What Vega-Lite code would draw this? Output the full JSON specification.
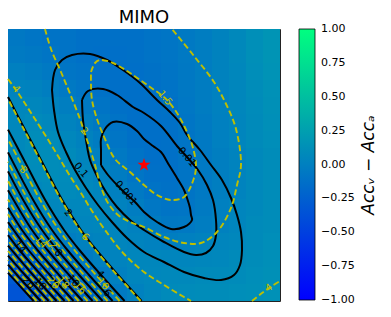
{
"$schema": "https://vega.github.io/schema/vega-lite/v6.json",
"width": 272, "height": 272,
"autosize": "none",
"padding": {"left": 8, "top": 29, "right": 111, "bottom": 16},
"title": {"text": "MIMO", "fontSize": 18, "font": "DejaVu Sans", "fontWeight": "normal", "offset": -2, "color": "black"},
"config": {"view": {"stroke": "#222", "strokeWidth": 1}, "font": "DejaVu Sans"},
"datasets": {
"grid": [
{"x":0,"x2":8.5,"y":0,"y2":8.5,"v":-0.06},{"x":8.5,"x2":17,"y":0,"y2":8.5,"v":-0.08},{"x":17,"x2":25.5,"y":0,"y2":8.5,"v":-0.1},{"x":25.5,"x2":34,"y":0,"y2":8.5,"v":-0.1},{"x":34,"x2":42.5,"y":0,"y2":8.5,"v":-0.12},{"x":42.5,"x2":51,"y":0,"y2":8.5,"v":-0.12},{"x":51,"x2":59.5,"y":0,"y2":8.5,"v":-0.12},{"x":59.5,"x2":68,"y":0,"y2":8.5,"v":-0.12},{"x":68,"x2":76.5,"y":0,"y2":8.5,"v":-0.1},{"x":76.5,"x2":85,"y":0,"y2":8.5,"v":-0.08},{"x":85,"x2":93.5,"y":0,"y2":8.5,"v":-0.05},{"x":93.5,"x2":102,"y":0,"y2":8.5,"v":-0.02},{"x":102,"x2":110.5,"y":0,"y2":8.5,"v":0.02},{"x":110.5,"x2":119,"y":0,"y2":8.5,"v":0.07},{"x":119,"x2":127.5,"y":0,"y2":8.5,"v":0.12},{"x":127.5,"x2":136,"y":0,"y2":8.5,"v":0.16},
{"x":0,"x2":8.5,"y":8.5,"y2":17,"v":-0.04},{"x":8.5,"x2":17,"y":8.5,"y2":17,"v":-0.06},{"x":17,"x2":25.5,"y":8.5,"y2":17,"v":-0.08},{"x":25.5,"x2":34,"y":8.5,"y2":17,"v":-0.1},{"x":34,"x2":42.5,"y":8.5,"y2":17,"v":-0.12},{"x":42.5,"x2":51,"y":8.5,"y2":17,"v":-0.13},{"x":51,"x2":59.5,"y":8.5,"y2":17,"v":-0.13},{"x":59.5,"x2":68,"y":8.5,"y2":17,"v":-0.12},{"x":68,"x2":76.5,"y":8.5,"y2":17,"v":-0.1},{"x":76.5,"x2":85,"y":8.5,"y2":17,"v":-0.08},{"x":85,"x2":93.5,"y":8.5,"y2":17,"v":-0.05},{"x":93.5,"x2":102,"y":8.5,"y2":17,"v":-0.02},{"x":102,"x2":110.5,"y":8.5,"y2":17,"v":0.02},{"x":110.5,"x2":119,"y":8.5,"y2":17,"v":0.07},{"x":119,"x2":127.5,"y":8.5,"y2":17,"v":0.12},{"x":127.5,"x2":136,"y":8.5,"y2":17,"v":0.16},
{"x":0,"x2":8.5,"y":17,"y2":25.5,"v":0.0},{"x":8.5,"x2":17,"y":17,"y2":25.5,"v":-0.02},{"x":17,"x2":25.5,"y":17,"y2":25.5,"v":-0.05},{"x":25.5,"x2":34,"y":17,"y2":25.5,"v":-0.08},{"x":34,"x2":42.5,"y":17,"y2":25.5,"v":-0.1},{"x":42.5,"x2":51,"y":17,"y2":25.5,"v":-0.12},{"x":51,"x2":59.5,"y":17,"y2":25.5,"v":-0.13},{"x":59.5,"x2":68,"y":17,"y2":25.5,"v":-0.13},{"x":68,"x2":76.5,"y":17,"y2":25.5,"v":-0.11},{"x":76.5,"x2":85,"y":17,"y2":25.5,"v":-0.09},{"x":85,"x2":93.5,"y":17,"y2":25.5,"v":-0.06},{"x":93.5,"x2":102,"y":17,"y2":25.5,"v":-0.02},{"x":102,"x2":110.5,"y":17,"y2":25.5,"v":0.02},{"x":110.5,"x2":119,"y":17,"y2":25.5,"v":0.06},{"x":119,"x2":127.5,"y":17,"y2":25.5,"v":0.11},{"x":127.5,"x2":136,"y":17,"y2":25.5,"v":0.15},
{"x":0,"x2":8.5,"y":25.5,"y2":34,"v":0.03},{"x":8.5,"x2":17,"y":25.5,"y2":34,"v":0.02},{"x":17,"x2":25.5,"y":25.5,"y2":34,"v":-0.01},{"x":25.5,"x2":34,"y":25.5,"y2":34,"v":-0.05},{"x":34,"x2":42.5,"y":25.5,"y2":34,"v":-0.08},{"x":42.5,"x2":51,"y":25.5,"y2":34,"v":-0.11},{"x":51,"x2":59.5,"y":25.5,"y2":34,"v":-0.13},{"x":59.5,"x2":68,"y":25.5,"y2":34,"v":-0.13},{"x":68,"x2":76.5,"y":25.5,"y2":34,"v":-0.12},{"x":76.5,"x2":85,"y":25.5,"y2":34,"v":-0.1},{"x":85,"x2":93.5,"y":25.5,"y2":34,"v":-0.06},{"x":93.5,"x2":102,"y":25.5,"y2":34,"v":-0.03},{"x":102,"x2":110.5,"y":25.5,"y2":34,"v":0.01},{"x":110.5,"x2":119,"y":25.5,"y2":34,"v":0.05},{"x":119,"x2":127.5,"y":25.5,"y2":34,"v":0.1},{"x":127.5,"x2":136,"y":25.5,"y2":34,"v":0.14},
{"x":0,"x2":8.5,"y":34,"y2":42.5,"v":0.05},{"x":8.5,"x2":17,"y":34,"y2":42.5,"v":0.05},{"x":17,"x2":25.5,"y":34,"y2":42.5,"v":0.03},{"x":25.5,"x2":34,"y":34,"y2":42.5,"v":-0.01},{"x":34,"x2":42.5,"y":34,"y2":42.5,"v":-0.05},{"x":42.5,"x2":51,"y":34,"y2":42.5,"v":-0.09},{"x":51,"x2":59.5,"y":34,"y2":42.5,"v":-0.12},{"x":59.5,"x2":68,"y":34,"y2":42.5,"v":-0.13},{"x":68,"x2":76.5,"y":34,"y2":42.5,"v":-0.13},{"x":76.5,"x2":85,"y":34,"y2":42.5,"v":-0.11},{"x":85,"x2":93.5,"y":34,"y2":42.5,"v":-0.07},{"x":93.5,"x2":102,"y":34,"y2":42.5,"v":-0.03},{"x":102,"x2":110.5,"y":34,"y2":42.5,"v":0.01},{"x":110.5,"x2":119,"y":34,"y2":42.5,"v":0.05},{"x":119,"x2":127.5,"y":34,"y2":42.5,"v":0.09},{"x":127.5,"x2":136,"y":34,"y2":42.5,"v":0.13},
{"x":0,"x2":8.5,"y":42.5,"y2":51,"v":0.06},{"x":8.5,"x2":17,"y":42.5,"y2":51,"v":0.08},{"x":17,"x2":25.5,"y":42.5,"y2":51,"v":0.06},{"x":25.5,"x2":34,"y":42.5,"y2":51,"v":0.03},{"x":34,"x2":42.5,"y":42.5,"y2":51,"v":-0.01},{"x":42.5,"x2":51,"y":42.5,"y2":51,"v":-0.06},{"x":51,"x2":59.5,"y":42.5,"y2":51,"v":-0.1},{"x":59.5,"x2":68,"y":42.5,"y2":51,"v":-0.13},{"x":68,"x2":76.5,"y":42.5,"y2":51,"v":-0.13},{"x":76.5,"x2":85,"y":42.5,"y2":51,"v":-0.12},{"x":85,"x2":93.5,"y":42.5,"y2":51,"v":-0.08},{"x":93.5,"x2":102,"y":42.5,"y2":51,"v":-0.04},{"x":102,"x2":110.5,"y":42.5,"y2":51,"v":0.0},{"x":110.5,"x2":119,"y":42.5,"y2":51,"v":0.04},{"x":119,"x2":127.5,"y":42.5,"y2":51,"v":0.08},{"x":127.5,"x2":136,"y":42.5,"y2":51,"v":0.12},
{"x":0,"x2":8.5,"y":51,"y2":59.5,"v":0.07},{"x":8.5,"x2":17,"y":51,"y2":59.5,"v":0.1},{"x":17,"x2":25.5,"y":51,"y2":59.5,"v":0.09},{"x":25.5,"x2":34,"y":51,"y2":59.5,"v":0.06},{"x":34,"x2":42.5,"y":51,"y2":59.5,"v":0.02},{"x":42.5,"x2":51,"y":51,"y2":59.5,"v":-0.03},{"x":51,"x2":59.5,"y":51,"y2":59.5,"v":-0.08},{"x":59.5,"x2":68,"y":51,"y2":59.5,"v":-0.12},{"x":68,"x2":76.5,"y":51,"y2":59.5,"v":-0.13},{"x":76.5,"x2":85,"y":51,"y2":59.5,"v":-0.12},{"x":85,"x2":93.5,"y":51,"y2":59.5,"v":-0.09},{"x":93.5,"x2":102,"y":51,"y2":59.5,"v":-0.05},{"x":102,"x2":110.5,"y":51,"y2":59.5,"v":0.0},{"x":110.5,"x2":119,"y":51,"y2":59.5,"v":0.04},{"x":119,"x2":127.5,"y":51,"y2":59.5,"v":0.08},{"x":127.5,"x2":136,"y":51,"y2":59.5,"v":0.11},
{"x":0,"x2":8.5,"y":59.5,"y2":68,"v":0.07},{"x":8.5,"x2":17,"y":59.5,"y2":68,"v":0.1},{"x":17,"x2":25.5,"y":59.5,"y2":68,"v":0.1},{"x":25.5,"x2":34,"y":59.5,"y2":68,"v":0.08},{"x":34,"x2":42.5,"y":59.5,"y2":68,"v":0.04},{"x":42.5,"x2":51,"y":59.5,"y2":68,"v":0.0},{"x":51,"x2":59.5,"y":59.5,"y2":68,"v":-0.05},{"x":59.5,"x2":68,"y":59.5,"y2":68,"v":-0.1},{"x":68,"x2":76.5,"y":59.5,"y2":68,"v":-0.13},{"x":76.5,"x2":85,"y":59.5,"y2":68,"v":-0.12},{"x":85,"x2":93.5,"y":59.5,"y2":68,"v":-0.09},{"x":93.5,"x2":102,"y":59.5,"y2":68,"v":-0.05},{"x":102,"x2":110.5,"y":59.5,"y2":68,"v":-0.01},{"x":110.5,"x2":119,"y":59.5,"y2":68,"v":0.03},{"x":119,"x2":127.5,"y":59.5,"y2":68,"v":0.07},{"x":127.5,"x2":136,"y":59.5,"y2":68,"v":0.1},
{"x":0,"x2":8.5,"y":68,"y2":76.5,"v":0.05},{"x":8.5,"x2":17,"y":68,"y2":76.5,"v":0.09},{"x":17,"x2":25.5,"y":68,"y2":76.5,"v":0.1},{"x":25.5,"x2":34,"y":68,"y2":76.5,"v":0.09},{"x":34,"x2":42.5,"y":68,"y2":76.5,"v":0.06},{"x":42.5,"x2":51,"y":68,"y2":76.5,"v":0.02},{"x":51,"x2":59.5,"y":68,"y2":76.5,"v":-0.03},{"x":59.5,"x2":68,"y":68,"y2":76.5,"v":-0.08},{"x":68,"x2":76.5,"y":68,"y2":76.5,"v":-0.12},{"x":76.5,"x2":85,"y":68,"y2":76.5,"v":-0.12},{"x":85,"x2":93.5,"y":68,"y2":76.5,"v":-0.09},{"x":93.5,"x2":102,"y":68,"y2":76.5,"v":-0.05},{"x":102,"x2":110.5,"y":68,"y2":76.5,"v":-0.01},{"x":110.5,"x2":119,"y":68,"y2":76.5,"v":0.03},{"x":119,"x2":127.5,"y":68,"y2":76.5,"v":0.07},{"x":127.5,"x2":136,"y":68,"y2":76.5,"v":0.1},
{"x":0,"x2":8.5,"y":76.5,"y2":85,"v":0.02},{"x":8.5,"x2":17,"y":76.5,"y2":85,"v":0.06},{"x":17,"x2":25.5,"y":76.5,"y2":85,"v":0.08},{"x":25.5,"x2":34,"y":76.5,"y2":85,"v":0.08},{"x":34,"x2":42.5,"y":76.5,"y2":85,"v":0.07},{"x":42.5,"x2":51,"y":76.5,"y2":85,"v":0.04},{"x":51,"x2":59.5,"y":76.5,"y2":85,"v":0.0},{"x":59.5,"x2":68,"y":76.5,"y2":85,"v":-0.05},{"x":68,"x2":76.5,"y":76.5,"y2":85,"v":-0.1},{"x":76.5,"x2":85,"y":76.5,"y2":85,"v":-0.11},{"x":85,"x2":93.5,"y":76.5,"y2":85,"v":-0.09},{"x":93.5,"x2":102,"y":76.5,"y2":85,"v":-0.05},{"x":102,"x2":110.5,"y":76.5,"y2":85,"v":-0.01},{"x":110.5,"x2":119,"y":76.5,"y2":85,"v":0.03},{"x":119,"x2":127.5,"y":76.5,"y2":85,"v":0.07},{"x":127.5,"x2":136,"y":76.5,"y2":85,"v":0.1},
{"x":0,"x2":8.5,"y":85,"y2":93.5,"v":-0.03},{"x":8.5,"x2":17,"y":85,"y2":93.5,"v":0.02},{"x":17,"x2":25.5,"y":85,"y2":93.5,"v":0.05},{"x":25.5,"x2":34,"y":85,"y2":93.5,"v":0.06},{"x":34,"x2":42.5,"y":85,"y2":93.5,"v":0.06},{"x":42.5,"x2":51,"y":85,"y2":93.5,"v":0.05},{"x":51,"x2":59.5,"y":85,"y2":93.5,"v":0.02},{"x":59.5,"x2":68,"y":85,"y2":93.5,"v":-0.02},{"x":68,"x2":76.5,"y":85,"y2":93.5,"v":-0.07},{"x":76.5,"x2":85,"y":85,"y2":93.5,"v":-0.09},{"x":85,"x2":93.5,"y":85,"y2":93.5,"v":-0.08},{"x":93.5,"x2":102,"y":85,"y2":93.5,"v":-0.04},{"x":102,"x2":110.5,"y":85,"y2":93.5,"v":0.0},{"x":110.5,"x2":119,"y":85,"y2":93.5,"v":0.04},{"x":119,"x2":127.5,"y":85,"y2":93.5,"v":0.07},{"x":127.5,"x2":136,"y":85,"y2":93.5,"v":0.1},
{"x":0,"x2":8.5,"y":93.5,"y2":102,"v":-0.09},{"x":8.5,"x2":17,"y":93.5,"y2":102,"v":-0.04},{"x":17,"x2":25.5,"y":93.5,"y2":102,"v":0.0},{"x":25.5,"x2":34,"y":93.5,"y2":102,"v":0.03},{"x":34,"x2":42.5,"y":93.5,"y2":102,"v":0.04},{"x":42.5,"x2":51,"y":93.5,"y2":102,"v":0.05},{"x":51,"x2":59.5,"y":93.5,"y2":102,"v":0.04},{"x":59.5,"x2":68,"y":93.5,"y2":102,"v":0.01},{"x":68,"x2":76.5,"y":93.5,"y2":102,"v":-0.03},{"x":76.5,"x2":85,"y":93.5,"y2":102,"v":-0.06},{"x":85,"x2":93.5,"y":93.5,"y2":102,"v":-0.05},{"x":93.5,"x2":102,"y":93.5,"y2":102,"v":-0.02},{"x":102,"x2":110.5,"y":93.5,"y2":102,"v":0.01},{"x":110.5,"x2":119,"y":93.5,"y2":102,"v":0.04},{"x":119,"x2":127.5,"y":93.5,"y2":102,"v":0.08},{"x":127.5,"x2":136,"y":93.5,"y2":102,"v":0.1},
{"x":0,"x2":8.5,"y":102,"y2":110.5,"v":-0.16},{"x":8.5,"x2":17,"y":102,"y2":110.5,"v":-0.11},{"x":17,"x2":25.5,"y":102,"y2":110.5,"v":-0.06},{"x":25.5,"x2":34,"y":102,"y2":110.5,"v":-0.02},{"x":34,"x2":42.5,"y":102,"y2":110.5,"v":0.01},{"x":42.5,"x2":51,"y":102,"y2":110.5,"v":0.03},{"x":51,"x2":59.5,"y":102,"y2":110.5,"v":0.04},{"x":59.5,"x2":68,"y":102,"y2":110.5,"v":0.03},{"x":68,"x2":76.5,"y":102,"y2":110.5,"v":0.01},{"x":76.5,"x2":85,"y":102,"y2":110.5,"v":-0.01},{"x":85,"x2":93.5,"y":102,"y2":110.5,"v":0.0},{"x":93.5,"x2":102,"y":102,"y2":110.5,"v":0.02},{"x":102,"x2":110.5,"y":102,"y2":110.5,"v":0.04},{"x":110.5,"x2":119,"y":102,"y2":110.5,"v":0.06},{"x":119,"x2":127.5,"y":102,"y2":110.5,"v":0.08},{"x":127.5,"x2":136,"y":102,"y2":110.5,"v":0.11},
{"x":0,"x2":8.5,"y":110.5,"y2":119,"v":-0.23},{"x":8.5,"x2":17,"y":110.5,"y2":119,"v":-0.18},{"x":17,"x2":25.5,"y":110.5,"y2":119,"v":-0.13},{"x":25.5,"x2":34,"y":110.5,"y2":119,"v":-0.08},{"x":34,"x2":42.5,"y":110.5,"y2":119,"v":-0.04},{"x":42.5,"x2":51,"y":110.5,"y2":119,"v":0.0},{"x":51,"x2":59.5,"y":110.5,"y2":119,"v":0.03},{"x":59.5,"x2":68,"y":110.5,"y2":119,"v":0.05},{"x":68,"x2":76.5,"y":110.5,"y2":119,"v":0.05},{"x":76.5,"x2":85,"y":110.5,"y2":119,"v":0.04},{"x":85,"x2":93.5,"y":110.5,"y2":119,"v":0.04},{"x":93.5,"x2":102,"y":110.5,"y2":119,"v":0.05},{"x":102,"x2":110.5,"y":110.5,"y2":119,"v":0.06},{"x":110.5,"x2":119,"y":110.5,"y2":119,"v":0.08},{"x":119,"x2":127.5,"y":110.5,"y2":119,"v":0.1},{"x":127.5,"x2":136,"y":110.5,"y2":119,"v":0.12},
{"x":0,"x2":8.5,"y":119,"y2":127.5,"v":-0.29},{"x":8.5,"x2":17,"y":119,"y2":127.5,"v":-0.25},{"x":17,"x2":25.5,"y":119,"y2":127.5,"v":-0.2},{"x":25.5,"x2":34,"y":119,"y2":127.5,"v":-0.15},{"x":34,"x2":42.5,"y":119,"y2":127.5,"v":-0.1},{"x":42.5,"x2":51,"y":119,"y2":127.5,"v":-0.05},{"x":51,"x2":59.5,"y":119,"y2":127.5,"v":0.0},{"x":59.5,"x2":68,"y":119,"y2":127.5,"v":0.04},{"x":68,"x2":76.5,"y":119,"y2":127.5,"v":0.06},{"x":76.5,"x2":85,"y":119,"y2":127.5,"v":0.07},{"x":85,"x2":93.5,"y":119,"y2":127.5,"v":0.07},{"x":93.5,"x2":102,"y":119,"y2":127.5,"v":0.08},{"x":102,"x2":110.5,"y":119,"y2":127.5,"v":0.08},{"x":110.5,"x2":119,"y":119,"y2":127.5,"v":0.09},{"x":119,"x2":127.5,"y":119,"y2":127.5,"v":0.11},{"x":127.5,"x2":136,"y":119,"y2":127.5,"v":0.13},
{"x":0,"x2":8.5,"y":127.5,"y2":136,"v":-0.34},{"x":8.5,"x2":17,"y":127.5,"y2":136,"v":-0.3},{"x":17,"x2":25.5,"y":127.5,"y2":136,"v":-0.26},{"x":25.5,"x2":34,"y":127.5,"y2":136,"v":-0.21},{"x":34,"x2":42.5,"y":127.5,"y2":136,"v":-0.15},{"x":42.5,"x2":51,"y":127.5,"y2":136,"v":-0.09},{"x":51,"x2":59.5,"y":127.5,"y2":136,"v":-0.04},{"x":59.5,"x2":68,"y":127.5,"y2":136,"v":0.01},{"x":68,"x2":76.5,"y":127.5,"y2":136,"v":0.05},{"x":76.5,"x2":85,"y":127.5,"y2":136,"v":0.08},{"x":85,"x2":93.5,"y":127.5,"y2":136,"v":0.09},{"x":93.5,"x2":102,"y":127.5,"y2":136,"v":0.1},{"x":102,"x2":110.5,"y":127.5,"y2":136,"v":0.1},{"x":110.5,"x2":119,"y":127.5,"y2":136,"v":0.11},{"x":119,"x2":127.5,"y":127.5,"y2":136,"v":0.12},{"x":127.5,"x2":136,"y":127.5,"y2":136,"v":0.14}
],
"cont": [
{"g":"b1","s":"k","k":0,"x":46.5,"y":68},{"g":"b1","s":"k","k":1,"x":46.5,"y":60.5},{"g":"b1","s":"k","k":2,"x":46.5,"y":55},{"g":"b1","s":"k","k":3,"x":48.5,"y":50},{"g":"b1","s":"k","k":4,"x":52.5,"y":46.5},{"g":"b1","s":"k","k":5,"x":59.5,"y":47.5},{"g":"b1","s":"k","k":6,"x":64.5,"y":51},{"g":"b1","s":"k","k":7,"x":68,"y":55},{"g":"b1","s":"k","k":8,"x":72.5,"y":58.5},{"g":"b1","s":"k","k":9,"x":76.5,"y":61.5},{"g":"b1","s":"k","k":10,"x":80.5,"y":68},{"g":"b1","s":"k","k":11,"x":84.5,"y":74.5},{"g":"b1","s":"k","k":12,"x":88,"y":80.5},{"g":"b1","s":"k","k":13,"x":89.5,"y":84.5},{"g":"b1","s":"k","k":14,"x":91,"y":89.5},{"g":"b1","s":"k","k":15,"x":91.5,"y":93},{"g":"b1","s":"k","k":16,"x":92,"y":95.5},{"g":"b1","s":"k","k":17,"x":88,"y":99},{"g":"b1","s":"k","k":18,"x":81.5,"y":100},{"g":"b1","s":"k","k":19,"x":74.5,"y":96.5},{"g":"b1","s":"k","k":20,"x":68,"y":91.5},{"g":"b1","s":"k","k":21,"x":63.5,"y":86.5},{"g":"b1","s":"k","k":22,"x":59,"y":82.5},{"g":"b1","s":"k","k":23,"x":54.5,"y":78},{"g":"b1","s":"k","k":24,"x":50,"y":73},{"g":"b1","s":"k","k":25,"x":46.5,"y":68},
{"g":"b2","s":"k","k":0,"x":37,"y":35.5},{"g":"b2","s":"k","k":1,"x":40,"y":31},{"g":"b2","s":"k","k":2,"x":47.5,"y":30},{"g":"b2","s":"k","k":3,"x":54.5,"y":33},{"g":"b2","s":"k","k":4,"x":62.5,"y":39},{"g":"b2","s":"k","k":5,"x":68,"y":42},{"g":"b2","s":"k","k":6,"x":76.5,"y":48.5},{"g":"b2","s":"k","k":7,"x":84.5,"y":58.5},{"g":"b2","s":"k","k":8,"x":89.5,"y":64},{"g":"b2","s":"k","k":9,"x":95,"y":70.5},{"g":"b2","s":"k","k":10,"x":99.5,"y":78},{"g":"b2","s":"k","k":11,"x":102.5,"y":85.5},{"g":"b2","s":"k","k":12,"x":104,"y":95.5},{"g":"b2","s":"k","k":13,"x":104,"y":103},{"g":"b2","s":"k","k":14,"x":102.5,"y":108.5},{"g":"b2","s":"k","k":15,"x":99,"y":112},{"g":"b2","s":"k","k":16,"x":94,"y":113},{"g":"b2","s":"k","k":17,"x":88,"y":111.5},{"g":"b2","s":"k","k":18,"x":78,"y":106.5},{"g":"b2","s":"k","k":19,"x":68,"y":100.5},{"g":"b2","s":"k","k":20,"x":61,"y":95.5},{"g":"b2","s":"k","k":21,"x":54.5,"y":89},{"g":"b2","s":"k","k":22,"x":49,"y":81.5},{"g":"b2","s":"k","k":23,"x":44.5,"y":73.5},{"g":"b2","s":"k","k":24,"x":41,"y":65.5},{"g":"b2","s":"k","k":25,"x":39,"y":55.5},{"g":"b2","s":"k","k":26,"x":37.5,"y":45.5},{"g":"b2","s":"k","k":27,"x":37,"y":35.5},
{"g":"b3","s":"k","k":0,"x":22,"y":30.5},{"g":"b3","s":"k","k":1,"x":23.5,"y":20.5},{"g":"b3","s":"k","k":2,"x":27,"y":15.5},{"g":"b3","s":"k","k":3,"x":32,"y":13},{"g":"b3","s":"k","k":4,"x":41,"y":12.5},{"g":"b3","s":"k","k":5,"x":49.5,"y":15.5},{"g":"b3","s":"k","k":6,"x":57.5,"y":20.5},{"g":"b3","s":"k","k":7,"x":66,"y":27},{"g":"b3","s":"k","k":8,"x":74.5,"y":35.5},{"g":"b3","s":"k","k":9,"x":81,"y":41.5},{"g":"b3","s":"k","k":10,"x":86,"y":47},{"g":"b3","s":"k","k":11,"x":89.5,"y":53},{"g":"b3","s":"k","k":12,"x":96,"y":60.5},{"g":"b3","s":"k","k":13,"x":101.5,"y":68},{"g":"b3","s":"k","k":14,"x":107,"y":75.5},{"g":"b3","s":"k","k":15,"x":111.5,"y":84.5},{"g":"b3","s":"k","k":16,"x":114.5,"y":93},{"g":"b3","s":"k","k":17,"x":116.5,"y":101.5},{"g":"b3","s":"k","k":18,"x":117,"y":110.5},{"g":"b3","s":"k","k":19,"x":116,"y":118},{"g":"b3","s":"k","k":20,"x":113,"y":123},{"g":"b3","s":"k","k":21,"x":106.5,"y":125.5},{"g":"b3","s":"k","k":22,"x":98,"y":124.5},{"g":"b3","s":"k","k":23,"x":88,"y":121.5},{"g":"b3","s":"k","k":24,"x":78,"y":116.5},{"g":"b3","s":"k","k":25,"x":68,"y":111.5},{"g":"b3","s":"k","k":26,"x":59.5,"y":104.5},{"g":"b3","s":"k","k":27,"x":52,"y":96.5},{"g":"b3","s":"k","k":28,"x":45,"y":88},{"g":"b3","s":"k","k":29,"x":39,"y":79.5},{"g":"b3","s":"k","k":30,"x":33.5,"y":70.5},{"g":"b3","s":"k","k":31,"x":29,"y":61.5},{"g":"b3","s":"k","k":32,"x":25,"y":51.5},{"g":"b3","s":"k","k":33,"x":23,"y":40.5},{"g":"b3","s":"k","k":34,"x":22,"y":30.5},
{"g":"b4","s":"k","k":0,"x":66.8,"y":136},{"g":"b4","s":"k","k":1,"x":55,"y":123},{"g":"b4","s":"k","k":2,"x":44.2,"y":110.5},{"g":"b4","s":"k","k":3,"x":36.5,"y":100.5},{"g":"b4","s":"k","k":4,"x":27.1,"y":85.5},{"g":"b4","s":"k","k":5,"x":16.5,"y":65.5},{"g":"b4","s":"k","k":6,"x":8.6,"y":50.5},{"g":"b4","s":"k","k":7,"x":0,"y":34},
{"g":"b5","s":"k","k":0,"x":58.3,"y":136},{"g":"b5","s":"k","k":1,"x":46.5,"y":123},{"g":"b5","s":"k","k":2,"x":35.7,"y":110.5},{"g":"b5","s":"k","k":3,"x":28,"y":100.5},{"g":"b5","s":"k","k":4,"x":18.6,"y":85.5},{"g":"b5","s":"k","k":5,"x":8,"y":65.5},{"g":"b5","s":"k","k":6,"x":0,"y":50.3},
{"g":"b6","s":"k","k":0,"x":52.3,"y":136},{"g":"b6","s":"k","k":1,"x":40.5,"y":123},{"g":"b6","s":"k","k":2,"x":29.7,"y":110.5},{"g":"b6","s":"k","k":3,"x":22,"y":100.5},{"g":"b6","s":"k","k":4,"x":12.6,"y":85.5},{"g":"b6","s":"k","k":5,"x":0,"y":61.7},
{"g":"b7","s":"k","k":0,"x":47.3,"y":136},{"g":"b7","s":"k","k":1,"x":35.5,"y":123},{"g":"b7","s":"k","k":2,"x":24.7,"y":110.5},{"g":"b7","s":"k","k":3,"x":17,"y":100.5},{"g":"b7","s":"k","k":4,"x":7.6,"y":85.5},{"g":"b7","s":"k","k":5,"x":0,"y":71.2},
{"g":"b8","s":"k","k":0,"x":42.3,"y":136},{"g":"b8","s":"k","k":1,"x":30.5,"y":123},{"g":"b8","s":"k","k":2,"x":19.7,"y":110.5},{"g":"b8","s":"k","k":3,"x":12,"y":100.5},{"g":"b8","s":"k","k":4,"x":0,"y":80.6},
{"g":"b9","s":"k","k":0,"x":37.3,"y":136},{"g":"b9","s":"k","k":1,"x":25.5,"y":123},{"g":"b9","s":"k","k":2,"x":14.7,"y":110.5},{"g":"b9","s":"k","k":3,"x":7,"y":100.5},{"g":"b9","s":"k","k":4,"x":0,"y":89.4},
{"g":"b10","s":"k","k":0,"x":32.8,"y":136},{"g":"b10","s":"k","k":1,"x":21,"y":123},{"g":"b10","s":"k","k":2,"x":10.2,"y":110.5},{"g":"b10","s":"k","k":3,"x":0,"y":96.6},
{"g":"b11","s":"k","k":0,"x":28.3,"y":136},{"g":"b11","s":"k","k":1,"x":16.5,"y":123},{"g":"b11","s":"k","k":2,"x":5.7,"y":110.5},{"g":"b11","s":"k","k":3,"x":0,"y":103.1},
{"g":"b12","s":"k","k":0,"x":24.3,"y":136},{"g":"b12","s":"k","k":1,"x":12.5,"y":123},{"g":"b12","s":"k","k":2,"x":0,"y":108.3},
{"g":"b13","s":"k","k":0,"x":20.3,"y":136},{"g":"b13","s":"k","k":1,"x":8.5,"y":123},{"g":"b13","s":"k","k":2,"x":0,"y":113.3},
{"g":"b14","s":"k","k":0,"x":16.3,"y":136},{"g":"b14","s":"k","k":1,"x":4.5,"y":123},{"g":"b14","s":"k","k":2,"x":0,"y":117.8},
{"g":"b15","s":"k","k":0,"x":12.8,"y":136},{"g":"b15","s":"k","k":1,"x":0,"y":121.9},
{"g":"y1","s":"y","k":0,"x":41.5,"y":21.5},{"g":"y1","s":"y","k":1,"x":43.5,"y":17},{"g":"y1","s":"y","k":2,"x":46,"y":15.5},{"g":"y1","s":"y","k":3,"x":52.5,"y":17},{"g":"y1","s":"y","k":4,"x":61,"y":22},{"g":"y1","s":"y","k":5,"x":71,"y":29},{"g":"y1","s":"y","k":6,"x":78.5,"y":34.5},{"g":"y1","s":"y","k":7,"x":84.5,"y":42},{"g":"y1","s":"y","k":8,"x":89.5,"y":51.5},{"g":"y1","s":"y","k":9,"x":92.5,"y":59.5},{"g":"y1","s":"y","k":10,"x":94,"y":68},{"g":"y1","s":"y","k":11,"x":93,"y":74.5},{"g":"y1","s":"y","k":12,"x":88,"y":84},{"g":"y1","s":"y","k":13,"x":81.5,"y":85.5},{"g":"y1","s":"y","k":14,"x":74.5,"y":83},{"g":"y1","s":"y","k":15,"x":68,"y":78},{"g":"y1","s":"y","k":16,"x":61,"y":71.5},{"g":"y1","s":"y","k":17,"x":53.5,"y":65},{"g":"y1","s":"y","k":18,"x":48.5,"y":55},{"g":"y1","s":"y","k":19,"x":44.5,"y":45},{"g":"y1","s":"y","k":20,"x":42,"y":35.5},{"g":"y1","s":"y","k":21,"x":41.5,"y":28},{"g":"y1","s":"y","k":22,"x":41.5,"y":21.5},
{"g":"y2","s":"y","k":0,"x":18.5,"y":0},{"g":"y2","s":"y","k":1,"x":21.5,"y":10},{"g":"y2","s":"y","k":2,"x":26.5,"y":21.5},{"g":"y2","s":"y","k":3,"x":31.5,"y":33.5},{"g":"y2","s":"y","k":4,"x":36,"y":45},{"g":"y2","s":"y","k":5,"x":38,"y":51},{"g":"y2","s":"y","k":6,"x":41,"y":60},{"g":"y2","s":"y","k":7,"x":43.5,"y":68},{"g":"y2","s":"y","k":8,"x":46.5,"y":79},{"g":"y2","s":"y","k":9,"x":50,"y":87},{"g":"y2","s":"y","k":10,"x":55,"y":93},{"g":"y2","s":"y","k":11,"x":61,"y":96.5},{"g":"y2","s":"y","k":12,"x":68,"y":99},{"g":"y2","s":"y","k":13,"x":78,"y":104},{"g":"y2","s":"y","k":14,"x":88,"y":107},{"g":"y2","s":"y","k":15,"x":96.5,"y":107},{"g":"y2","s":"y","k":16,"x":104.5,"y":101.5},{"g":"y2","s":"y","k":17,"x":111.5,"y":89.5},{"g":"y2","s":"y","k":18,"x":114.5,"y":78},{"g":"y2","s":"y","k":19,"x":116.5,"y":68},{"g":"y2","s":"y","k":20,"x":114,"y":50},{"g":"y2","s":"y","k":21,"x":109.5,"y":38.5},{"g":"y2","s":"y","k":22,"x":103,"y":26.5},{"g":"y2","s":"y","k":23,"x":93,"y":13.5},{"g":"y2","s":"y","k":24,"x":82,"y":0},
{"g":"y3","s":"y","k":0,"x":0,"y":25},{"g":"y3","s":"y","k":1,"x":4,"y":30.5},{"g":"y3","s":"y","k":2,"x":8,"y":36.5},{"g":"y3","s":"y","k":3,"x":12.5,"y":43.5},{"g":"y3","s":"y","k":4,"x":17,"y":50.5},{"g":"y3","s":"y","k":5,"x":22,"y":58.5},{"g":"y3","s":"y","k":6,"x":26.5,"y":66},{"g":"y3","s":"y","k":7,"x":31,"y":73.5},{"g":"y3","s":"y","k":8,"x":36.5,"y":82},{"g":"y3","s":"y","k":9,"x":42,"y":91},{"g":"y3","s":"y","k":10,"x":48.5,"y":100.5},{"g":"y3","s":"y","k":11,"x":58,"y":112.5},{"g":"y3","s":"y","k":12,"x":68,"y":121.5},{"g":"y3","s":"y","k":13,"x":78,"y":128},{"g":"y3","s":"y","k":14,"x":88,"y":134},{"g":"y3","s":"y","k":15,"x":91.5,"y":136},
{"g":"y4","s":"y","k":0,"x":122,"y":136},{"g":"y4","s":"y","k":1,"x":127,"y":132},{"g":"y4","s":"y","k":2,"x":132,"y":128.5},{"g":"y4","s":"y","k":3,"x":136,"y":126},
{"g":"y5","s":"y","k":0,"x":66.3,"y":136},{"g":"y5","s":"y","k":1,"x":54.5,"y":123},{"g":"y5","s":"y","k":2,"x":43.7,"y":110.5},{"g":"y5","s":"y","k":3,"x":36,"y":100.5},{"g":"y5","s":"y","k":4,"x":26.6,"y":85.5},{"g":"y5","s":"y","k":5,"x":16,"y":65.5},{"g":"y5","s":"y","k":6,"x":8.1,"y":50.5},{"g":"y5","s":"y","k":7,"x":0,"y":35},
{"g":"y6","s":"y","k":0,"x":55.8,"y":136},{"g":"y6","s":"y","k":1,"x":44,"y":123},{"g":"y6","s":"y","k":2,"x":33.2,"y":110.5},{"g":"y6","s":"y","k":3,"x":25.5,"y":100.5},{"g":"y6","s":"y","k":4,"x":16.1,"y":85.5},{"g":"y6","s":"y","k":5,"x":5.5,"y":65.5},{"g":"y6","s":"y","k":6,"x":0,"y":55.1},
{"g":"y7","s":"y","k":0,"x":49.8,"y":136},{"g":"y7","s":"y","k":1,"x":38,"y":123},{"g":"y7","s":"y","k":2,"x":27.2,"y":110.5},{"g":"y7","s":"y","k":3,"x":19.5,"y":100.5},{"g":"y7","s":"y","k":4,"x":10.1,"y":85.5},{"g":"y7","s":"y","k":5,"x":0,"y":66.4},
{"g":"y8","s":"y","k":0,"x":44.8,"y":136},{"g":"y8","s":"y","k":1,"x":33,"y":123},{"g":"y8","s":"y","k":2,"x":22.2,"y":110.5},{"g":"y8","s":"y","k":3,"x":14.5,"y":100.5},{"g":"y8","s":"y","k":4,"x":5.1,"y":85.5},{"g":"y8","s":"y","k":5,"x":0,"y":75.9},
{"g":"y9","s":"y","k":0,"x":39.8,"y":136},{"g":"y9","s":"y","k":1,"x":28,"y":123},{"g":"y9","s":"y","k":2,"x":17.2,"y":110.5},{"g":"y9","s":"y","k":3,"x":9.5,"y":100.5},{"g":"y9","s":"y","k":4,"x":0,"y":85.3},
{"g":"y10","s":"y","k":0,"x":35.3,"y":136},{"g":"y10","s":"y","k":1,"x":23.5,"y":123},{"g":"y10","s":"y","k":2,"x":12.7,"y":110.5},{"g":"y10","s":"y","k":3,"x":5,"y":100.5},{"g":"y10","s":"y","k":4,"x":0,"y":92.6},
{"g":"y11","s":"y","k":0,"x":30.8,"y":136},{"g":"y11","s":"y","k":1,"x":19,"y":123},{"g":"y11","s":"y","k":2,"x":8.2,"y":110.5},{"g":"y11","s":"y","k":3,"x":0,"y":99.7},
{"g":"y12","s":"y","k":0,"x":26.3,"y":136},{"g":"y12","s":"y","k":1,"x":14.5,"y":123},{"g":"y12","s":"y","k":2,"x":3.7,"y":110.5},{"g":"y12","s":"y","k":3,"x":0,"y":105.7},
{"g":"y13","s":"y","k":0,"x":22.3,"y":136},{"g":"y13","s":"y","k":1,"x":10.5,"y":123},{"g":"y13","s":"y","k":2,"x":0,"y":111},
{"g":"y14","s":"y","k":0,"x":18.3,"y":136},{"g":"y14","s":"y","k":1,"x":6.5,"y":123},{"g":"y14","s":"y","k":2,"x":0,"y":115.5},
{"g":"y15","s":"y","k":0,"x":14.3,"y":136},{"g":"y15","s":"y","k":1,"x":2.5,"y":123},{"g":"y15","s":"y","k":2,"x":0,"y":120.1}
],
"labs": [
{"t":"0.001","s":"k","x":59,"y":82},{"t":"0.01","s":"k","x":89.5,"y":64},{"t":"0.1","s":"k","x":36.5,"y":70.5},{"t":"2","s":"k","x":30,"y":92},{"t":"4","s":"k","x":46,"y":122.5},{"t":"6","s":"k","x":49.5,"y":132},{"t":"8","s":"k","x":25,"y":112},{"t":"10","s":"k","x":32.5,"y":126},{"t":"14","s":"k","x":6,"y":109},{"t":"18","s":"k","x":16,"y":127.5},{"t":"20","s":"k","x":10,"y":127},
{"t":"1.5","s":"y","x":78.5,"y":34.5},{"t":"2","s":"y","x":38,"y":51},{"t":"4","s":"y","x":4,"y":30},{"t":"4","s":"y","x":130.5,"y":129.5},{"t":"8","s":"y","x":7.5,"y":70.5},{"t":"6","s":"y","x":38.5,"y":104},{"t":"10","s":"y","x":47.5,"y":127.5},{"t":"12","s":"y","x":21.5,"y":107},{"t":"14","s":"y","x":16.5,"y":106.5},{"t":"16","s":"y","x":36,"y":129.5},{"t":"18","s":"y","x":27.5,"y":127},{"t":"20","s":"y","x":22.5,"y":127}
]
},
"encoding": {
  "x": {"type": "quantitative", "axis": null, "scale": {"domain": [0, 136], "nice": false, "zero": false}},
  "y": {"type": "quantitative", "axis": null, "scale": {"domain": [0, 136], "reverse": true, "nice": false, "zero": false}}
},
"layer": [
{"data": {"name": "grid"}, "mark": {"type": "rect"},
 "encoding": {
  "x": {"field": "x", "type": "quantitative"},
  "x2": {"field": "x2"},
  "y": {"field": "y", "type": "quantitative"},
  "y2": {"field": "y2"},
  "color": {"field": "v", "type": "quantitative", "scale": {"domain": [-1, 1], "range": ["#0000ff", "#00ff80"], "interpolate": "rgb"},
   "legend": {"orient": "none", "legendX": 291, "legendY": 0, "direction": "vertical", "gradientLength": 271, "gradientThickness": 16,
    "values": [-1, -0.75, -0.5, -0.25, 0, 0.25, 0.5, 0.75, 1], "format": ".2f", "labelFontSize": 11, "labelFont": "DejaVu Sans", "labelColor": "black", "labelOffset": 6, "labelBaseline": "middle",
    "title": "Accᵥ − Accₐ", "titleOrient": "right", "titleAnchor": "middle", "titlePadding": 6, "titleFontSize": 17, "titleFontStyle": "italic", "titleFont": "DejaVu Sans", "titleFontWeight": "normal", "titleColor": "black",
    "gradientStrokeColor": "black", "gradientStrokeWidth": 0.8,
    "encode": {"title": {"update": {"angle": {"value": 270}, "baseline": {"value": "top"}, "align": {"value": "center"}}},
               "labels": {"update": {"baseline": {"value": "middle"}}}}}}
 }},
{"data": {"name": "cont"}, "transform": [{"filter": "datum.s == 'k'"}],
 "mark": {"type": "line", "color": "black", "strokeWidth": 2, "interpolate": "catmull-rom"},
 "encoding": {
  "x": {"field": "x", "type": "quantitative"},
  "y": {"field": "y", "type": "quantitative"},
  "detail": {"field": "g", "type": "nominal"}, "order": {"field": "k", "type": "quantitative"}}},
{"data": {"name": "cont"}, "transform": [{"filter": "datum.s == 'y'"}],
 "mark": {"type": "line", "color": "#bfbf00", "strokeWidth": 1.9, "strokeDash": [6, 3], "interpolate": "catmull-rom"},
 "encoding": {
  "x": {"field": "x", "type": "quantitative"},
  "y": {"field": "y", "type": "quantitative"},
  "detail": {"field": "g", "type": "nominal"}, "order": {"field": "k", "type": "quantitative"}}},
{"data": {"name": "labs"}, "transform": [{"filter": "datum.s == 'k'"}],
 "mark": {"type": "text", "color": "black", "fontSize": 10, "font": "DejaVu Sans", "angle": 50},
 "encoding": {
  "x": {"field": "x", "type": "quantitative"},
  "y": {"field": "y", "type": "quantitative"},
  "text": {"field": "t", "type": "nominal"}}},
{"data": {"name": "labs"}, "transform": [{"filter": "datum.s == 'y' && datum.x < 120"}],
 "mark": {"type": "text", "color": "#bfbf00", "fontSize": 10, "font": "DejaVu Sans", "angle": 50},
 "encoding": {
  "x": {"field": "x", "type": "quantitative"},
  "y": {"field": "y", "type": "quantitative"},
  "text": {"field": "t", "type": "nominal"}}},
{"data": {"name": "labs"}, "transform": [{"filter": "datum.s == 'y' && datum.x >= 120"}],
 "mark": {"type": "text", "color": "#bfbf00", "fontSize": 10, "font": "DejaVu Sans", "angle": -35},
 "encoding": {
  "x": {"field": "x", "type": "quantitative"},
  "y": {"field": "y", "type": "quantitative"},
  "text": {"field": "t", "type": "nominal"}}},
{"data": {"values": [{"x": 68, "y": 68}]},
 "mark": {"type": "point", "shape": "M0,-1L0.2245,-0.309L0.951,-0.309L0.363,0.118L0.588,0.809L0,0.382L-0.588,0.809L-0.363,0.118L-0.951,-0.309L-0.2245,-0.309Z", "filled": true, "color": "red", "opacity": 1, "size": 190},
 "encoding": {
  "x": {"field": "x", "type": "quantitative"},
  "y": {"field": "y", "type": "quantitative"}}}
]
}
